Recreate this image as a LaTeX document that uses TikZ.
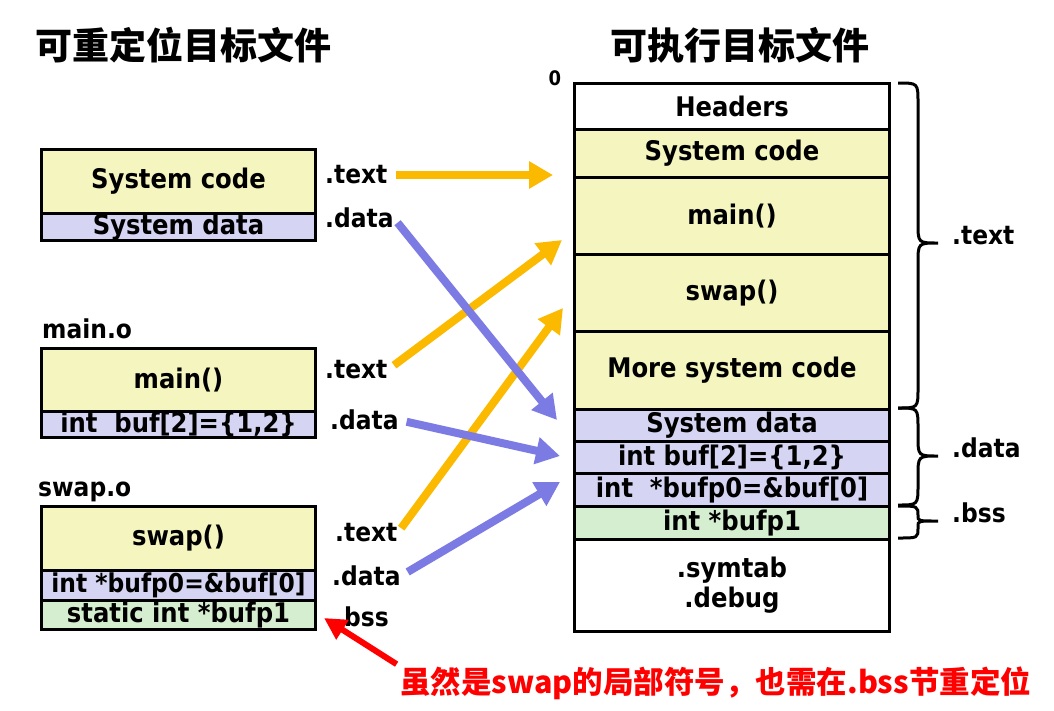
\documentclass[tikz,border=0pt]{standalone}
\usepackage{fontspec}
\setmainfont{DejaVu Sans Condensed}
\newfontfamily\cjk{Noto Sans CJK SC}
\usetikzlibrary{arrows.meta}
\definecolor{secyel}{HTML}{F5F5BF}
\definecolor{seclav}{HTML}{D5D5F3}
\definecolor{secgrn}{HTML}{D5EED0}
\definecolor{arrY}{HTML}{FBBA00}
\definecolor{arrB}{HTML}{7B7BE3}
\definecolor{arrR}{HTML}{FF0000}
\begin{document}
\begin{tikzpicture}[x=1pt,y=-1pt,
  sec/.style={draw=black,line width=3pt,anchor=north west,inner sep=0pt,
    align=center,font=\bfseries\fontsize{27}{29}\selectfont},
  lsec/.style={sec,minimum width=274pt},
  rsec/.style={sec,minimum width=315pt},
  lbl/.style={anchor=west,inner sep=0pt,font=\bfseries\fontsize{26}{28}\selectfont},
  ttl/.style={inner sep=0pt,font=\cjk\bfseries\fontsize{37}{39}\selectfont},
  yarr/.style={draw=arrY,line width=8pt,-{Triangle[length=24pt,width=26pt]}},
  barr/.style={draw=arrB,line width=8pt,-{Triangle[length=24pt,width=26pt]}},
  rarr/.style={draw=arrR,line width=6pt,-{Triangle[length=22pt,width=22pt]}},
  brc/.style={draw=black,line width=3pt}]
\useasboundingbox (0,0) rectangle (1054,710);
\fill[white] (0,0) rectangle (1054,710);
% titles
\node[ttl] (tl) at (183,45) {可重定位目标文件};
\node[ttl] (tr) at (740,45) {可执行目标文件};
% left: system object
\node[lsec,fill=secyel,minimum height=64pt] (lsc) at (40,148) {System code};
\node[lsec,fill=seclav,minimum height=27pt] (lsd) at (40,212) {System data};
\node[lbl] (t1) at (325,175) {.text};
\node[lbl] (d1) at (325,218) {.data};
% main.o
\node[lbl] (mo) at (42,329) {main.o};
\node[lsec,fill=secyel,minimum height=63pt] (lmain) at (40,347) {main()};
\node[lsec,fill=seclav,minimum height=26pt] (lbuf) at (40,410) {int\ \ buf[2]=\{1,2\}};
\node[lbl] (t2) at (325,370) {.text};
\node[lbl] (d2) at (330,420) {.data};
% swap.o
\node[lbl] (so) at (38,492) {swap.o};
\node[lsec,fill=secyel,minimum height=64pt] (lswap) at (40,505) {swap()};
\node[lsec,fill=seclav,minimum height=30pt,font=\bfseries\fontsize{26}{28}\selectfont] (lbp0) at (40,569) {int *bufp0=\&buf[0]};
\node[lsec,fill=secgrn,minimum height=29pt] (lbp1) at (40,599) {static int *bufp1};
\node[lbl] (t3) at (335,533) {.text};
\node[lbl] (d3) at (332,576) {.data};
\node[lbl] (b3) at (335,617) {.bss};
% right stack
\node[inner sep=0pt,font=\bfseries\fontsize{20}{22}\selectfont] (zero) at (555,78) {0};
\node[rsec,fill=white,minimum height=46pt] (rh) at (573,82) {Headers};
\node[rsec,fill=secyel,minimum height=48pt] (rsc) at (573,128) {System code};
\node[rsec,fill=secyel,minimum height=77pt] (rmain) at (573,176) {main()};
\node[rsec,fill=secyel,minimum height=77pt] (rswap) at (573,253) {swap()};
\node[rsec,fill=secyel,minimum height=78pt] (rmore) at (573,330) {More system code};
\node[rsec,fill=seclav,minimum height=32pt] (rsd) at (573,408) {System data};
\node[rsec,fill=seclav,minimum height=32pt] (rbuf) at (573,440) {int buf[2]=\{1,2\}};
\node[rsec,fill=seclav,minimum height=33pt] (rbp0) at (573,472) {int\ \ *bufp0=\&buf[0]};
\node[rsec,fill=secgrn,minimum height=33pt] (rbp1) at (573,505) {int *bufp1};
\node[rsec,fill=white,minimum height=92pt] (rsym) at (573,538) {.symtab\\[1pt].debug};
% braces
\draw[brc] (898,83) .. controls (918,83) .. (918,103) -- (918,223) .. controls (918,243) .. (938,243)
  .. controls (918,243) .. (918,263) -- (918,388) .. controls (918,408) .. (898,408);
\draw[brc] (898,408) .. controls (918,408) .. (918,428) -- (918,436) .. controls (918,456) .. (938,456)
  .. controls (918,456) .. (918,476) -- (918,485) .. controls (918,505) .. (898,505);
\draw[brc] (898,506) .. controls (918,506) .. (918,516) -- (918,516) .. controls (918,521) .. (938,521)
  .. controls (918,521) .. (918,526) -- (918,528) .. controls (918,538) .. (898,538);
\node[lbl] (bt) at (952,236) {.text};
\node[lbl] (bd) at (952,448) {.data};
\node[lbl] (bb) at (952,513) {.bss};
% arrow targets
\coordinate (cy1) at (553,175);
\coordinate (cy2) at (562,240);
\coordinate (cy3) at (563,308);
\coordinate (cb1) at (557,420);
\coordinate (cb2) at (560,456);
\coordinate (cb3) at (560,482);
\coordinate (cr) at (324,618);
% arrows
\draw[yarr,shorten <=8pt] (t1.east) -- (cy1);
\draw[yarr,shorten <=8pt] (t2.east) -- (cy2);
\draw[yarr,shorten <=6pt] (t3.east) -- (cy3);
\draw[barr,shorten <=6pt] (d1.east) -- (cb1);
\draw[barr,shorten <=8pt] (d2.east) -- (cb2);
\draw[barr,shorten <=8pt] (d3.east) -- (cb3);
% note
\node[anchor=west,inner sep=0pt,text=arrR,font=\cjk\bfseries\fontsize{30.5}{32}\selectfont] (note) at (400,683) {虽然是swap的局部符号，也需在.bss节重定位};
\draw[rarr,shorten <=4pt] (note.north west) -- (cr);
\end{tikzpicture}
\end{document}
